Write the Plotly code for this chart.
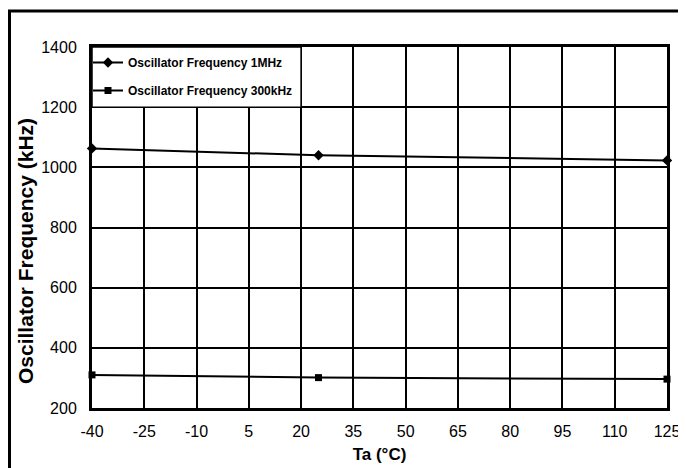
import plotly.graph_objects as go

temps = [-40, 25, 125]
freq_1mhz = [1063, 1040, 1023]
freq_300khz = [310, 301, 296]
series_names = ["Oscillator Frequency 1MHz", "Oscillator Frequency 300kHz"]
x_ticks = [-40, -25, -10, 5, 20, 35, 50, 65, 80, 95, 110, 125]
y_ticks = [200, 400, 600, 800, 1000, 1200, 1400]
x_title = "Ta (°C)"
y_title = "Oscillator Frequency (kHz)"

# page has an 8px body margin; figure pixel = window pixel - 8
OFF = 8
W, H = 686, 468
L, T = 92 - OFF, 47 - OFF
R, B = W - (667 - OFF), H - (408 - OFF)
pw, ph = W - L - R, H - T - B

font = "Liberation Sans, Arial, sans-serif"

fig = go.Figure()
fig.add_trace(go.Scatter(
    x=temps, y=freq_1mhz, name=series_names[0], mode="lines+markers",
    line=dict(color="black", width=2),
    marker=dict(symbol="diamond", size=8, color="black"),
    cliponaxis=False, legendgroup="a",
))
fig.add_trace(go.Scatter(
    x=temps, y=freq_300khz, name=series_names[1], mode="lines+markers",
    line=dict(color="black", width=2),
    marker=dict(symbol="square", size=7, color="black"),
    cliponaxis=False, legendgroup="b",
))

def px_x(p):
    return (p - L) / pw

def px_y(p):
    return (H - B - p) / ph

shapes = [
    dict(type="rect", xref="x", yref="y", x0=-40, x1=20, y0=1200, y1=1400,
         fillcolor="white", line=dict(color="black", width=1.5), layer="between"),
    dict(type="rect", xref="paper", yref="paper",
         x0=px_x(1.5), x1=px_x(720), y0=px_y(500), y1=px_y(3),
         line=dict(color="black", width=3), fillcolor="rgba(0,0,0,0)"),
]

annotations = [
    dict(text="<b>" + y_title + "</b>", xref="paper", yref="paper",
         x=px_x(26 - OFF), y=px_y(251 - OFF), xanchor="center", yanchor="middle",
         textangle=-90, showarrow=False, font=dict(family=font, size=21, color="black")),
]

fig.update_layout(
    width=W, height=H,
    margin=dict(l=L, r=R, t=T, b=B, autoexpand=False),
    paper_bgcolor="white", plot_bgcolor="white",
    font=dict(family=font, size=16, color="black"),
    shapes=shapes,
    annotations=annotations,
    showlegend=True,
    legend=dict(
        x=px_x(80), y=px_y(40), xanchor="left", yanchor="top",
        bgcolor="rgba(0,0,0,0)", borderwidth=0,
        font=dict(family=font, size=12, color="black", weight="bold"),
        traceorder="grouped", tracegroupgap=9, itemwidth=30,
    ),
    xaxis=dict(
        range=[-40, 125], tickmode="array", tickvals=x_ticks,
        ticktext=[str(v) for v in x_ticks],
        showgrid=True, gridcolor="black", gridwidth=1.5,
        showline=True, linecolor="black", linewidth=3, mirror=True,
        ticks="", zeroline=False, ticklabelstandoff=7,
        tickfont=dict(size=16),
        title=dict(text="<b>" + x_title + "</b>", font=dict(size=17), standoff=9),
    ),
    yaxis=dict(
        range=[200, 1400], tickmode="array", tickvals=y_ticks,
        ticktext=[str(v) for v in y_ticks],
        showgrid=True, gridcolor="black", gridwidth=1.5,
        showline=True, linecolor="black", linewidth=3, mirror=True,
        ticks="", zeroline=False, ticklabelstandoff=9,
        tickfont=dict(size=16),
    ),
)

fig.write_html("out.html")
